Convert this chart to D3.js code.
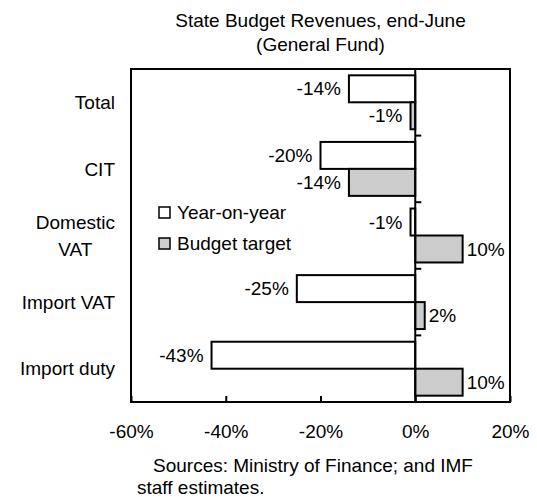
<!DOCTYPE html>
<html>
<head>
<meta charset="utf-8">
<script src="https://cdn.jsdelivr.net/npm/d3@7"></script>
<style>
  body { margin: 0; background: #fff; }
  svg text { font-family: "Liberation Sans", Arial, sans-serif; font-size: 19px; fill: #000; }
</style>
</head>
<body>
<svg id="chart" width="537" height="497"></svg>
<script>
const categories = [["Total"], ["CIT"], ["Domestic", "VAT"], ["Import VAT"], ["Import duty"]];
const series = ["Year-on-year", "Budget target"];
const yoy = [-14, -20, -1, -25, -43];
const budget = [-1, -14, 10, 2, 10];
const xTicks = [-60, -40, -20, 0, 20];

const colors = { "Year-on-year": "#ffffff", "Budget target": "#cccccc" };

const margin = { top: 69, right: 27, bottom: 95, left: 131 };
const width = 537 - margin.left - margin.right;
const height = 497 - margin.top - margin.bottom;

const svg = d3.select("#chart");
const g = svg.append("g")
  .attr("transform", `translate(${margin.left},${margin.top})`);

const x = d3.scaleLinear()
  .domain([-60, 20])
  .range([0, width]);

const y = d3.scaleBand()
  .domain(d3.range(categories.length))
  .range([0, height])
  .paddingInner(0.19)
  .paddingOuter(0.095);

const ySub = d3.scaleBand()
  .domain(series)
  .range([0, y.bandwidth()]);

const rows = categories.map((c, i) => ({ i, values: [
  { key: series[0], v: yoy[i] },
  { key: series[1], v: budget[i] }
]}));

// bars
const grp = g.selectAll(".cat")
  .data(rows)
  .enter().append("g")
  .attr("class", "cat")
  .attr("transform", d => `translate(0,${y(d.i)})`);

grp.selectAll("rect")
  .data(d => d.values)
  .enter().append("rect")
  .attr("x", d => x(Math.min(0, d.v)))
  .attr("y", d => ySub(d.key))
  .attr("width", d => Math.abs(x(d.v) - x(0)))
  .attr("height", ySub.bandwidth())
  .attr("fill", d => colors[d.key])
  .attr("stroke", "#000")
  .attr("stroke-width", 2);

grp.selectAll(".val")
  .data(d => d.values)
  .enter().append("text")
  .attr("class", "val")
  .attr("x", d => d.v < 0 ? x(d.v) - 8 : x(d.v) + 4)
  .attr("y", d => ySub(d.key) + ySub.bandwidth() / 2)
  .attr("dy", "0.35em")
  .attr("text-anchor", d => d.v < 0 ? "end" : "start")
  .text(d => d.v + "%");

// plot frame
g.append("rect")
  .attr("width", width)
  .attr("height", height)
  .attr("fill", "none")
  .attr("stroke", "#000")
  .attr("stroke-width", 2);

// bottom axis, ticks pointing inward
const xAxis = g.append("g")
  .attr("transform", `translate(0,${height})`)
  .call(d3.axisBottom(x).tickValues(xTicks).tickSizeInner(-6).tickSizeOuter(0).tickPadding(23).tickFormat(d => d + "%"));
xAxis.select(".domain").remove();
xAxis.selectAll("line").attr("stroke-width", 2);
xAxis.selectAll("text").style("font-size", "19px").style("font-family", "Liberation Sans, Arial, sans-serif");

// zero line with separator ticks between categories
g.append("line")
  .attr("x1", x(0)).attr("x2", x(0))
  .attr("y1", 0).attr("y2", height)
  .attr("stroke", "#000").attr("stroke-width", 2);

g.selectAll(".sep")
  .data(d3.range(1, categories.length))
  .enter().append("line")
  .attr("x1", x(0)).attr("x2", x(0) + 6)
  .attr("y1", d => d * y.step())
  .attr("y2", d => d * y.step())
  .attr("stroke", "#000").attr("stroke-width", 2);

// category labels (multi-line ones centred on each other, block right-aligned)
const labelRight = -16;
categories.forEach((lines, i) => {
  const cy = y(i) + y.bandwidth() / 2;
  const t = g.append("text")
    .attr("text-anchor", "middle");
  lines.forEach((line, j) => {
    t.append("tspan")
      .attr("x", 0)
      .attr("y", cy + (j - (lines.length - 1) / 2) * 27)
      .attr("dy", "0.35em")
      .text(line);
  });
  const w = d3.max(t.selectAll("tspan").nodes(), n => n.getComputedTextLength());
  t.selectAll("tspan").attr("x", labelRight - w / 2);
});

// legend
const legend = g.selectAll(".legend")
  .data(series)
  .enter().append("g")
  .attr("class", "legend")
  .attr("transform", (d, i) => `translate(28,${138 + i * 31})`);

legend.append("rect")
  .attr("width", 11)
  .attr("height", 11)
  .attr("fill", d => colors[d])
  .attr("stroke", "#000")
  .attr("stroke-width", 1.5);

legend.append("text")
  .attr("x", 18)
  .attr("y", 5.5)
  .attr("dy", "0.35em")
  .text(d => d);

// title
svg.append("text")
  .attr("x", margin.left + width / 2)
  .attr("y", 27)
  .attr("text-anchor", "middle")
  .text("State Budget Revenues, end-June");
svg.append("text")
  .attr("x", margin.left + width / 2)
  .attr("y", 51)
  .attr("text-anchor", "middle")
  .text("(General Fund)");

// source note
svg.append("text")
  .attr("x", 153)
  .attr("y", 472)
  .text("Sources: Ministry of Finance; and IMF");
svg.append("text")
  .attr("x", 137)
  .attr("y", 494)
  .text("staff estimates.");
</script>
</body>
</html>
